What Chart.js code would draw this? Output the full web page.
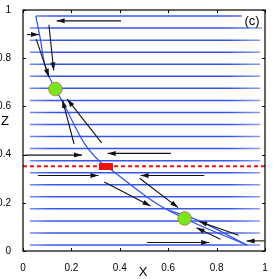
<!DOCTYPE html>
<html>
<head>
<meta charset="utf-8">
<script src="https://cdn.jsdelivr.net/npm/chart.js@4.4.0/dist/chart.umd.min.js"></script>
<style>
  html, body { margin: 0; padding: 0; background: #ffffff; }
  #wrap { width: 273px; height: 279px; }
</style>
</head>
<body>
<div id="wrap"><canvas id="c" width="273" height="279"></canvas></div>
<script>
// ---- data ----
const TICKS = [0, 0.2, 0.4, 0.6, 0.8, 1];

// horizontal fast trajectories
const LINE_Z = [0.025, 0.075, 0.125, 0.175, 0.225, 0.275, 0.325, 0.375, 0.425, 0.475,
                0.525, 0.575, 0.625, 0.675, 0.725, 0.775, 0.825, 0.875, 0.925, 0.975];
const LINE_X_START = [0.028, 0.028, 0.028, 0.028, 0.028, 0.028, 0.028, 0.028, 0.028, 0.028,
                      0.028, 0.028, 0.028, 0.028, 0.028, 0.028, 0.028, 0.028, 0.028, 0.053];
const LINE_X_END = [0.98, 0.98, 0.98, 0.98, 0.98, 0.98, 0.98, 0.98, 0.98, 0.98,
                    0.98, 0.98, 0.98, 0.98, 0.98, 0.98, 0.98, 0.98, 0.987, 0.905];

// slow manifold curves
const UPPER_X = [0.053, 0.072, 0.089, 0.134, 0.166, 0.251, 0.319, 0.344];
const UPPER_Z = [0.975, 0.878, 0.776, 0.672, 0.614, 0.451, 0.370, 0.352];
const LOWER_X = [0.344, 0.364, 0.555, 0.668, 0.926];
const LOWER_Z = [0.352, 0.337, 0.195, 0.135, 0.024];
const LOWER2_X = [0.600, 0.717, 0.926];
const LOWER2_Z = [0.170, 0.130, 0.024];

// threshold (red dashed)
const THRESH_Z = 0.352;

// markers
const GREEN_X = [0.134, 0.668];
const GREEN_Z = [0.672, 0.135];
const RED_X = [0.344];
const RED_Z = [0.352];

// arrows (start -> head)
const ARROW_X0 = [0.405, 0.017, 0.055, 0.107, 0.211, 0.325, 0.008, 0.611, 0.062, 0.749, 0.336, 0.482, 0.891, 0.816, 0.513, 0.999];
const ARROW_Z0 = [0.955, 0.898, 0.878, 0.939, 0.444, 0.449, 0.398, 0.405, 0.313, 0.313, 0.286, 0.302, 0.065, 0.049, 0.035, 0.042];
const ARROW_X1 = [0.139, 0.066, 0.107, 0.127, 0.163, 0.183, 0.244, 0.350, 0.312, 0.486, 0.527, 0.641, 0.728, 0.717, 0.769, 0.924];
const ARROW_Z1 = [0.955, 0.898, 0.722, 0.749, 0.627, 0.630, 0.398, 0.405, 0.313, 0.313, 0.187, 0.180, 0.122, 0.096, 0.035, 0.042];

// ---- build datasets ----
const zip = (xs, zs) => xs.map((x, i) => ({ x: x, y: zs[i] }));
const datasets = [];

// markers (drawn on top: order 0)
const redRect = document.createElement('canvas');
redRect.width = 14; redRect.height = 7;
(function () { const g = redRect.getContext('2d'); g.fillStyle = '#ee1111'; g.fillRect(0, 0, 14, 7); })();

datasets.push({
  data: zip(RED_X, RED_Z), pointStyle: redRect, pointRadius: 7,
  showLine: false, order: 0
});
datasets.push({
  data: zip(GREEN_X, GREEN_Z), pointStyle: 'circle', pointRadius: 6.8,
  backgroundColor: '#77e51f', borderColor: '#b86a3a', borderWidth: 0.8,
  showLine: false, order: 0
});

// arrows shafts
for (let i = 0; i < ARROW_X0.length; i++) {
  datasets.push({
    data: [{ x: ARROW_X0[i], y: ARROW_Z0[i] }, { x: ARROW_X1[i], y: ARROW_Z1[i] }],
    showLine: true, borderColor: '#111111', borderWidth: 1.1, pointRadius: 0,
    fill: false, order: 1
  });
}

// threshold
datasets.push({
  data: [{ x: 0, y: THRESH_Z }, { x: 1, y: THRESH_Z }],
  showLine: true, borderColor: '#ee1111', borderWidth: 2, borderDash: [4, 3],
  pointRadius: 0, order: 2
});

// curves
[[UPPER_X, UPPER_Z], [LOWER_X, LOWER_Z], [LOWER2_X, LOWER2_Z]].forEach(function (c) {
  datasets.push({
    data: zip(c[0], c[1]), showLine: true, borderColor: '#2b4ff2', borderWidth: 1.2,
    pointRadius: 0, cubicInterpolationMode: 'monotone', order: 3
  });
});

// horizontal lines
for (let i = 0; i < LINE_Z.length; i++) {
  datasets.push({
    data: [{ x: LINE_X_START[i], y: LINE_Z[i] }, { x: LINE_X_END[i], y: LINE_Z[i] }],
    showLine: true, borderWidth: 1.5, pointRadius: 0, order: 4,
    borderColor: function (ctx) {
      const ch = ctx.chart; const a = ch.chartArea;
      if (!a) return '#3a5af0';
      const g = ch.ctx.createLinearGradient(a.left, 0, a.right, 0);
      g.addColorStop(0, 'rgba(120,145,240,0.9)');
      g.addColorStop(0.12, 'rgba(45,75,235,0.95)');
      g.addColorStop(0.85, 'rgba(45,75,235,0.95)');
      g.addColorStop(1, 'rgba(130,150,240,0.85)');
      return g;
    }
  });
}

// ---- plugins ----
const decor = {
  id: 'decor',
  afterDatasetsDraw: function (chart) {
    const ctx = chart.ctx, xs = chart.scales.x, ys = chart.scales.y, a = chart.chartArea;
    ctx.save();
    // arrow heads
    ctx.fillStyle = '#111111';
    for (let i = 0; i < ARROW_X0.length; i++) {
      const x0 = xs.getPixelForValue(ARROW_X0[i]), y0 = ys.getPixelForValue(ARROW_Z0[i]);
      const x1 = xs.getPixelForValue(ARROW_X1[i]), y1 = ys.getPixelForValue(ARROW_Z1[i]);
      const ang = Math.atan2(y1 - y0, x1 - x0);
      const L = 8, W = 2.5;
      ctx.beginPath();
      ctx.moveTo(x1, y1);
      ctx.lineTo(x1 - L * Math.cos(ang) + W * Math.sin(ang), y1 - L * Math.sin(ang) - W * Math.cos(ang));
      ctx.lineTo(x1 - L * Math.cos(ang) - W * Math.sin(ang), y1 - L * Math.sin(ang) + W * Math.cos(ang));
      ctx.closePath();
      ctx.fill();
    }
    // box
    ctx.strokeStyle = '#000000';
    ctx.lineWidth = 1.2;
    ctx.strokeRect(a.left, a.top, a.right - a.left, a.bottom - a.top);
    // inward ticks
    ctx.lineWidth = 1;
    TICKS.forEach(function (t) {
      const px = Math.round(xs.getPixelForValue(t)) + 0.5;
      const py = Math.round(ys.getPixelForValue(t)) + 0.5;
      ctx.beginPath();
      ctx.moveTo(px, a.bottom); ctx.lineTo(px, a.bottom - 3);
      ctx.moveTo(px, a.top); ctx.lineTo(px, a.top + 3);
      ctx.moveTo(a.left, py); ctx.lineTo(a.left + 3, py);
      ctx.moveTo(a.right, py); ctx.lineTo(a.right - 3, py);
      ctx.stroke();
    });
    // texts
    ctx.fillStyle = '#000000';
    ctx.textAlign = 'center';
    ctx.textBaseline = 'middle';
    ctx.font = '13px "Liberation Sans", Arial, sans-serif';
    ctx.fillText('(c)', a.right - 13, a.top + 11);
    ctx.fillText('X', (a.left + a.right) / 2 - 1, 272);
    ctx.fillText('Z', 5, 121);
    ctx.restore();
  }
};

new Chart(document.getElementById('c'), {
  type: 'scatter',
  data: { datasets: datasets },
  options: {
    responsive: false,
    animation: false,
    devicePixelRatio: 1,
    layout: { padding: { top: 5, right: 3, left: 0, bottom: 0 } },
    plugins: { legend: { display: false }, tooltip: { enabled: false }, title: { display: false } },
    elements: { line: { fill: false } },
    scales: {
      x: {
        type: 'linear', min: 0, max: 1,
        afterBuildTicks: function (s) { s.ticks = TICKS.map(v => ({ value: v })); },
        afterFit: function (s) { s.height = 28; },
        grid: { display: false }, border: { display: false },
        ticks: { padding: 3, color: '#000', font: { size: 10, family: '"Liberation Sans", Arial, sans-serif' }, maxRotation: 0,
                 callback: function (v) { return String(v); } }
      },
      y: {
        type: 'linear', min: 0, max: 1,
        afterBuildTicks: function (s) { s.ticks = TICKS.map(v => ({ value: v })); },
        afterFit: function (s) { s.width = 23; },
        grid: { display: false }, border: { display: false },
        ticks: { padding: 4, color: '#000', font: { size: 10, family: '"Liberation Sans", Arial, sans-serif' },
                 callback: function (v) { return String(v); } }
      }
    }
  },
  plugins: [decor]
});
</script>
</body>
</html>
